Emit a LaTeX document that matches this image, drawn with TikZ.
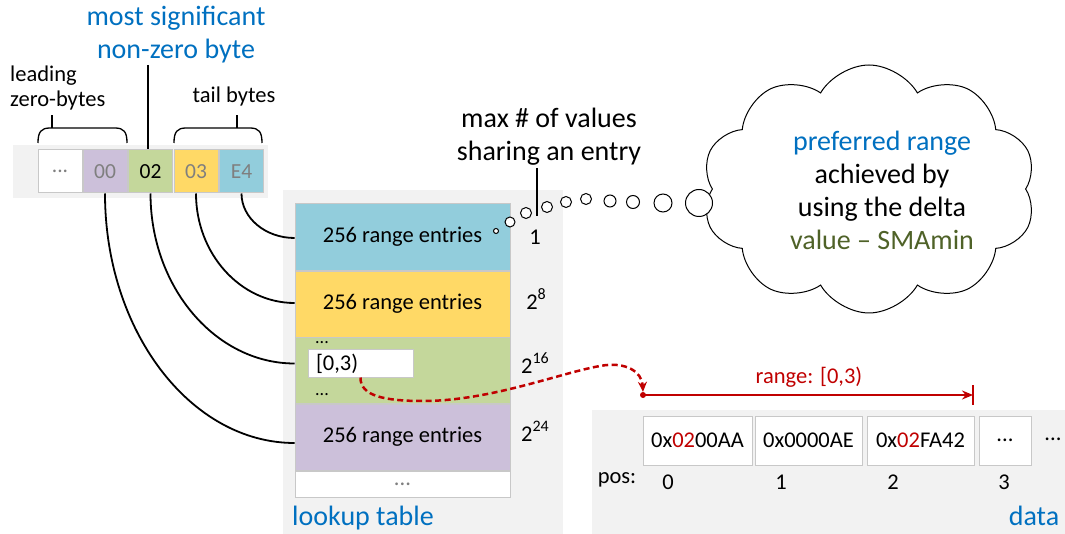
\documentclass[tikz,border=0pt]{standalone}
\usepackage{fontspec}
\setmainfont{Carlito}
\usetikzlibrary{shapes.symbols,arrows.meta,calc}

\definecolor{bgray}{HTML}{F2F2F2}
\definecolor{edge}{HTML}{C8C8C8}
\definecolor{cblue}{HTML}{92CDDC}
\definecolor{cyellow}{HTML}{FFD966}
\definecolor{cgreen}{HTML}{C4D79B}
\definecolor{cpurple}{HTML}{CCC0DA}
\definecolor{tblue}{HTML}{0070C0}
\definecolor{tgreen}{HTML}{4F6228}
\definecolor{tred}{HTML}{C00000}
\definecolor{tgray}{HTML}{7F7F7F}

\newcommand\fsz[2]{\fontsize{#1}{#2}\selectfont}
% power of two with a raised exponent
\newcommand\pwr[1]{2\raisebox{10pt}{\fsz{16}{18}#1}}

\tikzset{
  byte/.style={draw=edge, line width=1pt, minimum width=44pt, minimum height=43pt,
    inner sep=0pt, font=\fsz{21.5}{25}},
  row/.style={draw=edge, line width=0.8pt, minimum width=215pt, inner sep=0pt,
    font=\fsz{22.5}{26}},
  txt/.style={inner sep=0pt, font=\fsz{22.5}{26}},
  bigtxt/.style={inner sep=0pt, font=\fsz{28}{33}, align=center},
  cell/.style={draw=edge, line width=1pt, fill=white, minimum height=49pt,
    inner sep=0pt, font=\fsz{22.5}{26}},
  link/.style={line width=1.8pt},
  thin/.style={line width=1.3pt},
  bubble/.style={circle, draw, line width=1pt, fill=white, inner sep=0pt},
  qarc/.style={to path={.. controls ($(\tikztostart)!0.55!(\tikztostart|-\tikztotarget)$)
      and ($(\tikztotarget)!0.55!(\tikztostart|-\tikztotarget)$) .. (\tikztotarget)}},
}

\begin{document}
\begin{tikzpicture}[x=1pt, y=-1pt]
\useasboundingbox (0,0) rectangle (1065,534);

% ---- byte strip ----
\fill[bgray] (13,145) rectangle (268,198);
\node[byte, fill=white, text=tgray] (bdots) at (60,171.5) {...};
\node[byte, fill=cpurple, text=tgray] (b00) at (105,171.5) {00};
\node[byte, fill=cgreen] (b02) at (150.5,171.5) {02};
\node[byte, fill=cyellow, text=tgray] (b03) at (196,171.5) {03};
\node[byte, fill=cblue, text=tgray] (bE4) at (241.5,171.5) {E4};

% labels above the strip
\node[bigtxt, text=tblue] (msb) at (176,35) {most significant\\non-zero byte};
\coordinate (msbTop) at (148,65);
\draw[thin] (msbTop) -- (msbTop |- b02.north);

\node[txt, align=left, anchor=west, font=\fsz{22.5}{25}] (lead) at (10,88) {leading\\zero-bytes};
\node[txt] (tail) at (234,97) {tail bytes};

% braces
\draw[thin] (38,143) .. controls (38,132) and (41,128) .. (50,128) -- (115,128)
  .. controls (124,128) and (127,132) .. (127,143);
\draw[thin] (52,128) -- (52,115);
\draw[thin] (174,143) .. controls (174,132) and (177,128) .. (186,128) -- (250,128)
  .. controls (259,128) and (262,132) .. (262,143);
\draw[thin] (237,128) -- (237,115);

% ---- lookup table ----
\fill[bgray] (283,190) rectangle (563,534);
\node[row, fill=cblue, minimum height=67pt] (rB) at (402.5,236.5) {256 range entries};
\node[row, fill=cyellow, minimum height=66pt] (rY) at (402.5,304) {256 range entries};
\node[row, fill=cgreen, minimum height=66pt] (rG) at (402.5,370) {};
\node[row, fill=cpurple, minimum height=66pt] (rP) at (402.5,437) {256 range entries};
\node[row, fill=white, minimum height=26pt, text=tgray] (rW) at (402.5,484) {...};

\node[txt, font=\fsz{18}{20}] (gd1) at (322,343) {...};
\node[draw=edge, line width=1pt, fill=white, text width=89pt, align=left,
  inner xsep=8pt, inner ysep=0pt, minimum height=27pt, font=\fsz{22.5}{26}] (z03) at (360.5,363.5) {[0,3)};
\node[txt, font=\fsz{18}{20}] (gd2) at (322,395) {...};

\node[txt] (m1) at (535,237) {1};
\node[txt] (m8) at (536,299) {\pwr{8}};
\node[txt] (m16) at (535,363) {\pwr{16}};
\node[txt] (m24) at (535,431) {\pwr{24}};

\node[inner sep=0pt, font=\fsz{28}{33}, text=tblue, anchor=west] (lt) at (292,518) {lookup table};

% byte -> row connectors
\coordinate (inB) at ($(rB.west)+(0,1.5)$);
\coordinate (inY) at ($(rY.west)+(0,-1)$);
\coordinate (inG) at (rG.west |- z03.west);
\coordinate (inP) at ($(rP.west)+(0,6)$);
\draw[link] (bE4.south) to[qarc] (inB);
\draw[link] (b03.south) to[qarc] (inY);
\draw[link] (b02.south) to[qarc] (inG);
\draw[link] (b00.south) to[qarc] (inP);

% ---- max # label and thought bubbles ----
\node[bigtxt] (maxlbl) at (549,137) {max \# of values\\sharing an entry};
\coordinate (tickTop) at (537,168);
\coordinate (tickEnd) at (537,216);
\draw[thin] (tickTop) -- (tickEnd);

\node[bubble, minimum size=5pt] (c1) at (496,231) {};
\node[bubble, minimum size=10pt] (c2) at (510,222) {};
\node[bubble, minimum size=11pt] (c3) at (526,213) {};
\node[bubble, minimum size=11pt] (c4) at (547,207) {};
\node[bubble, minimum size=11pt] (c5) at (566,202) {};
\node[bubble, minimum size=11pt] (c6) at (586,199) {};
\node[bubble, minimum size=12pt] (c7) at (610,201) {};
\node[bubble, minimum size=13pt] (c8) at (633,202) {};
\node[bubble, minimum size=18pt] (c9) at (663,203) {};

\node[cloud, draw, line width=1pt, fill=white, cloud puffs=10, cloud puff arc=120,
  aspect=1.37, minimum width=334pt, minimum height=248pt] (cloud) at (869,189) {};
\node[bubble, minimum size=27pt] (c10) at (699,203) {};
\node[bigtxt] (cloudtxt) at (882,190)
  {\textcolor{tblue}{preferred range}\\achieved by\\using the delta\\
   \textcolor{tgreen}{value \textendash{} SMAmin}};

% ---- data ----
\fill[bgray] (592,410) rectangle (1065,534);
\node[cell, minimum width=109pt] (d0) at (697.5,440.5) {0x\textcolor{tred}{02}00AA};
\node[cell, minimum width=107pt] (d1) at (808.5,440.5) {0x0000AE};
\node[cell, minimum width=107pt] (d2) at (920.5,440.5) {0x\textcolor{tred}{02}FA42};
\node[cell, minimum width=52pt] (d3) at (1005,440.5) {...};
\node[txt] (dmore) at (1053,439) {...};

\node[txt] (pos) at (617,480) {pos:};
\node[txt] (p0) at (668,482) {0};
\node[txt] (p1) at (781,482) {1};
\node[txt] (p2) at (893,482) {2};
\node[txt] (p3) at (1004,482) {3};

\node[inner sep=0pt, font=\fsz{28}{33}, text=tblue] (dl) at (1034,516) {data};

% ---- range arrow ----
\node[circle, fill=tred, inner sep=0pt, minimum size=6pt] (rs) at (643,395) {};
\coordinate (re) at (973,395);
\draw[tred, line width=2pt, -{Stealth[length=11pt,width=9pt]}] (rs.center) -- (re);
\draw[tred, line width=2pt] ($(re)+(0,-10)$) -- ($(re)+(0,10)$);
\node[txt, text=tred] (rl) at (809,377) {range: [0,3)};

\coordinate (dip) at (423,401);
\draw[tred, line width=2.5pt, dash pattern=on 6pt off 3.5pt, -{Stealth[length=10pt,width=9pt]}]
  (z03.south) .. controls (360,396) and (385,401) .. (dip)
  .. controls (490,401) and (560,373) .. (600,366)
  .. controls (626,361) and (642,372) .. (rs.north);
\end{tikzpicture}
\end{document}
